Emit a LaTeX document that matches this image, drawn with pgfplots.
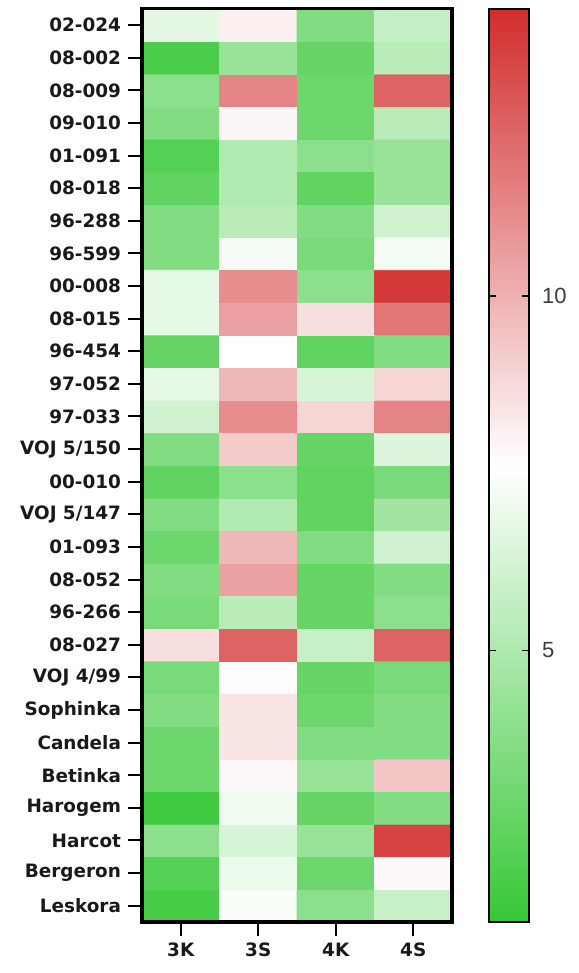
\documentclass[border=0pt]{standalone}
\usepackage{pgfplots}
\pgfplotsset{compat=1.18}
\usepackage{fontspec}
\setmainfont{Liberation Sans}
\newfontfamily\lblfont{DejaVu Sans}
\pgfplotsset{/pgf/number format/assume math mode=true}
\definecolor{lbl}{RGB}{25,25,25}
\definecolor{cbl}{RGB}{60,60,60}
\begin{document}
\begin{tikzpicture}
\useasboundingbox (0,0) rectangle (289pt,486.5pt);
\begin{axis}[
  at={(71pt,25.5pt)}, anchor=south west,
  scale only axis, width=155pt, height=456.6pt,
  xmin=-0.5, xmax=3.5, ymin=-0.5, ymax=27.5,
  xtick={0,1,2,3}, xticklabels={3K,3S,4K,4S},
  ytick={0,...,27},
  yticklabels={Leskora,Bergeron,Harcot,Harogem,Betinka,Candela,Sophinka,VOJ 4/99,08-027,96-266,08-052,01-093,VOJ 5/147,00-010,VOJ 5/150,97-033,97-052,96-454,08-015,00-008,96-599,96-288,08-018,01-091,09-010,08-009,08-002,02-024},
  xtick pos=lower, ytick pos=left,
  tick align=outside, major tick length=7pt,
  every tick/.append style={black, line width=1pt},
  axis line style={line width=1.6pt},
  axis on top,
  tick label style={font=\lblfont\fontsize{9.2}{11}\selectfont\bfseries, text=lbl},
  colormap={gwr}{rgb255=(55,200,55) rgb255=(255,255,255) rgb255=(210,45,45)},
  point meta min=1.17, point meta max=14.05,
  colorbar,
  colorbar/width=20pt,
  colorbar style={
    at={(parent axis.north east)}, anchor=north west, xshift=10pt,
    ytick={5,10}, tick align=inside, ytick pos=both,
    yticklabel pos=right, major tick length=3.5pt,
    every tick/.append style={black, line width=0.8pt},
    axis line style={line width=1.2pt},
    axis on top,
    tick label style={font=\fontsize{11}{13}\selectfont, text=cbl, xshift=3pt},
  },
]
\addplot[matrix plot*, mesh/cols=4, point meta=explicit] table[meta=v] {
x y v
0 0 1.7
1 0 7.4
2 0 3.9
3 0 5.8
0 1 2.1
1 1 7.0
2 1 2.9
3 1 7.8
0 2 3.9
1 2 6.3
2 2 4.3
3 2 13.4
0 3 1.5
1 3 7.1
2 3 2.7
3 3 3.6
0 4 2.9
1 4 7.8
2 4 4.3
3 4 9.4
0 5 2.9
1 5 8.4
2 5 3.6
3 5 3.6
0 6 3.6
1 6 8.4
2 6 2.9
3 6 3.6
0 7 3.3
1 7 7.7
2 7 2.7
3 7 3.3
0 8 8.6
1 8 12.4
2 8 5.8
3 8 12.4
0 9 3.3
1 9 5.4
2 9 2.7
3 9 3.9
0 10 3.6
1 10 10.5
2 10 2.7
3 10 3.6
0 11 2.9
1 11 9.8
2 11 3.6
3 11 6.1
0 12 3.6
1 12 5.1
2 12 2.5
3 12 4.6
0 13 2.5
1 13 3.9
2 13 2.5
3 13 3.3
0 14 3.6
1 14 9.2
2 14 2.7
3 14 6.5
0 15 6.1
1 15 11.1
2 15 8.9
3 15 11.4
0 16 6.8
1 16 9.8
2 16 6.3
3 16 8.9
0 17 2.7
1 17 7.6
2 17 2.5
3 17 3.6
0 18 6.8
1 18 10.5
2 18 8.6
3 18 11.8
0 19 6.8
1 19 11.1
2 19 3.9
3 19 13.7
0 20 3.6
1 20 7.3
2 20 3.3
3 20 7.3
0 21 3.6
1 21 5.4
2 21 3.6
3 21 6.1
0 22 2.5
1 22 5.1
2 22 2.5
3 22 4.3
0 23 2.1
1 23 5.1
2 23 3.9
3 23 4.3
0 24 3.6
1 24 7.9
2 24 2.9
3 24 5.4
0 25 3.9
1 25 11.4
2 25 2.9
3 25 12.4
0 26 1.8
1 26 4.3
2 26 2.7
3 26 5.4
0 27 6.7
1 27 8.1
2 27 3.6
3 27 5.7
};
\end{axis}
% overlay axis with the same geometry, used only to draw the tick marks
\begin{axis}[
  at={(71pt,25.5pt)}, anchor=south west,
  scale only axis, width=155pt, height=456.6pt,
  xmin=-0.5, xmax=3.5, ymin=-0.5, ymax=27.5,
  hide axis, clip=false,
]
\addplot[black, line width=1pt, mark=none, unbounded coords=jump, forget plot] coordinates {
(-0.5,0) (-0.6806,0) (nan,nan)
(-0.5,1) (-0.6806,1) (nan,nan)
(-0.5,2) (-0.6806,2) (nan,nan)
(-0.5,3) (-0.6806,3) (nan,nan)
(-0.5,4) (-0.6806,4) (nan,nan)
(-0.5,5) (-0.6806,5) (nan,nan)
(-0.5,6) (-0.6806,6) (nan,nan)
(-0.5,7) (-0.6806,7) (nan,nan)
(-0.5,8) (-0.6806,8) (nan,nan)
(-0.5,9) (-0.6806,9) (nan,nan)
(-0.5,10) (-0.6806,10) (nan,nan)
(-0.5,11) (-0.6806,11) (nan,nan)
(-0.5,12) (-0.6806,12) (nan,nan)
(-0.5,13) (-0.6806,13) (nan,nan)
(-0.5,14) (-0.6806,14) (nan,nan)
(-0.5,15) (-0.6806,15) (nan,nan)
(-0.5,16) (-0.6806,16) (nan,nan)
(-0.5,17) (-0.6806,17) (nan,nan)
(-0.5,18) (-0.6806,18) (nan,nan)
(-0.5,19) (-0.6806,19) (nan,nan)
(-0.5,20) (-0.6806,20) (nan,nan)
(-0.5,21) (-0.6806,21) (nan,nan)
(-0.5,22) (-0.6806,22) (nan,nan)
(-0.5,23) (-0.6806,23) (nan,nan)
(-0.5,24) (-0.6806,24) (nan,nan)
(-0.5,25) (-0.6806,25) (nan,nan)
(-0.5,26) (-0.6806,26) (nan,nan)
(-0.5,27) (-0.6806,27)
};
\addplot[black, line width=1pt, mark=none, unbounded coords=jump, forget plot] coordinates {
(0,-0.5) (0,-0.8986) (nan,nan)
(1,-0.5) (1,-0.8986) (nan,nan)
(2,-0.5) (2,-0.8986) (nan,nan)
(3,-0.5) (3,-0.8986)
};
\addplot[black, line width=0.8pt, mark=none, unbounded coords=jump, forget plot] coordinates {
(3.978,7.826) (4.068,7.826) (nan,nan)
(3.978,18.696) (4.068,18.696)
};
\end{axis}
\end{tikzpicture}
\end{document}
